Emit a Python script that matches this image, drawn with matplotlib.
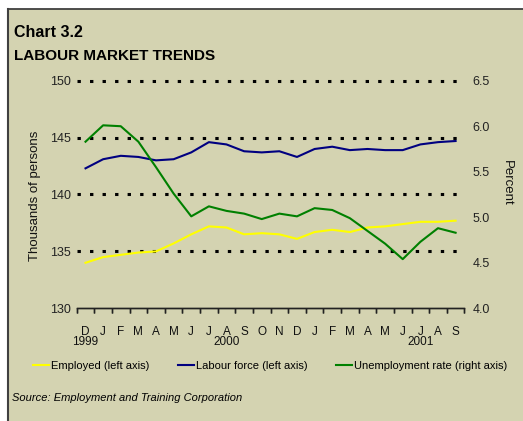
import numpy as np
import matplotlib
matplotlib.use('Agg')
import matplotlib.pyplot as plt
import matplotlib.transforms as mtransforms
from matplotlib.patches import Rectangle
from matplotlib.lines import Line2D
from matplotlib.ticker import NullFormatter

plt.rcParams['font.family'] = ['Liberation Sans', 'DejaVu Sans']
plt.rcParams.update({
    'axes.spines.left': False, 'axes.spines.right': False, 'axes.spines.top': False,
    'axes.edgecolor': '#222222', 'axes.linewidth': 1.0,
    'xtick.direction': 'out', 'xtick.major.size': 3.6, 'xtick.major.width': 1.0,
    'xtick.color': '#222222', 'xtick.labelcolor': '#111111', 'xtick.labelsize': 8.5,
    'xtick.minor.size': 0, 'xtick.minor.pad': 13.0, 'xtick.minor.visible': False,
})

# monthly data, Dec 1999 .. Sep 2001
months = ['D', 'J', 'F', 'M', 'A', 'M', 'J', 'J', 'A', 'S', 'O', 'N',
          'D', 'J', 'F', 'M', 'A', 'M', 'J', 'J', 'A', 'S']
years = ['1999', '2000', '2001']
year_month_idx = [0, 8, 19]

employed = [134.0, 134.5, 134.7, 134.9, 135.0, 135.7, 136.5, 137.2, 137.1, 136.5, 136.6,
            136.5, 136.1, 136.7, 136.9, 136.7, 137.1, 137.2, 137.4, 137.6, 137.6, 137.7]
labour_force = [142.3, 143.1, 143.4, 143.3, 143.0, 143.1, 143.7, 144.6, 144.4, 143.8, 143.7,
                143.8, 143.3, 144.0, 144.2, 143.9, 144.0, 143.9, 143.9, 144.4, 144.6, 144.7]
unemployment = [5.83, 6.01, 6.00, 5.83, 5.55, 5.26, 5.01, 5.12, 5.07, 5.04, 4.98,
                5.04, 5.01, 5.10, 5.08, 4.99, 4.85, 4.71, 4.54, 4.73, 4.88, 4.83]

left_ticks = [130, 135, 140, 145, 150]
right_ticks = [4.0, 4.5, 5.0, 5.5, 6.0, 6.5]

W, H = 523, 421
fig = plt.figure(figsize=(W / 100, H / 100), dpi=100)
fig.patch.set_facecolor('#D4D3B1')

# white margin on top/left with a dark frame line
fig.add_artist(Rectangle((0, 1 - 8.5 / H), 1, 8.5 / H, transform=fig.transFigure,
                         facecolor='white', edgecolor='none', zorder=-10))
fig.add_artist(Rectangle((0, 0), 7 / W, 1, transform=fig.transFigure,
                         facecolor='white', edgecolor='none', zorder=-10))
fig.add_artist(Line2D([7.5 / W, 1], [1 - 9 / H, 1 - 9 / H], transform=fig.transFigure,
                      color='#404040', lw=1.3, zorder=-9))
fig.add_artist(Line2D([7.5 / W, 7.5 / W], [0, 1 - 9 / H], transform=fig.transFigure,
                      color='#404040', lw=1.5, zorder=-9))

ax = fig.add_axes([76.7 / W, 1 - 308.3 / H, (464.4 - 76.7) / W, (308.3 - 80.7) / H])
ax.set_facecolor('none')
x = np.arange(len(months))
edges = np.arange(-0.5, len(months), 1)

ax.set_xlim(-0.5, len(months) - 0.5)
ax.set_ylim(130, 150)

for v in left_ticks[1:]:
    ax.axhline(v, xmin=0, xmax=0.993, color='black', lw=2.2, ls=(0, (1.1, 3.0)),
               dash_capstyle='butt', clip_on=False, zorder=1)

# x axis line and month-boundary ticks
ax.axhline(130, color='#222222', lw=1.0, clip_on=False, zorder=2)
ax.vlines(edges, 130, 130 - 20 * 5 / 227.6, color='#222222', lw=1.0, clip_on=False, zorder=2)

ax.plot(x, employed, color='#FFFF00', lw=1.5, zorder=3)
ax.plot(x, labour_force, color='#000080', lw=1.5, zorder=3)

ax.set_xticks(edges)
ax.xaxis.set_major_formatter(NullFormatter())
ax.set_xticks(x, minor=True)
ax.set_xticklabels(months, minor=True)

ax.set_yticks(left_ticks)
ax.tick_params(axis='y', length=0, pad=4.3, labelsize=9, labelcolor='#222222')

ax2 = ax.twinx()
ax2.plot(x, unemployment, color='#008000', lw=1.5)
ax2.set_ylim(4.0, 6.5)
for s in ax2.spines.values():
    s.set_visible(False)
ax2.set_yticks(right_ticks)
ax2.set_yticklabels([f'{t:.1f}' for t in right_ticks])
ax2.tick_params(axis='y', length=0, pad=5.8, labelsize=9, labelcolor='#222222')

trans = mtransforms.blended_transform_factory(ax.transData, fig.transFigure)
for yr, i in zip(years, year_month_idx):
    ax.text(i, 1 - 342 / H, yr, transform=trans, ha='center', va='center',
            fontsize=8.5, color='#111111')

fig.text(14 / W, 1 - 37 / H, 'Chart 3.2', fontsize=11.5, fontweight='bold', va='baseline')
fig.text(14 / W, 1 - 60 / H, 'LABOUR MARKET TRENDS', fontsize=11, fontweight='bold',
         va='baseline')
fig.text(35 / W, 1 - 196 / H, 'Thousands of persons', rotation=90, ha='center',
         va='center', fontsize=9.5, color='#111111')
fig.text(507 / W, 1 - 183 / H, 'Percent', rotation=270, ha='center', va='center',
         fontsize=9.5, color='#111111')

handles = [Line2D([], [], color='#FFFF00', lw=1.5),
           Line2D([], [], color='#000080', lw=1.5),
           Line2D([], [], color='#008000', lw=1.5)]
labels = ['Employed (left axis)', 'Labour force (left axis)', 'Unemployment rate (right axis)']
fig.legend(handles, labels, loc='center left', bbox_to_anchor=(33 / W, 1 - 366 / H),
           ncol=3, frameon=False, fontsize=8, handlelength=1.45, handletextpad=0.15,
           columnspacing=2.6, borderpad=0, borderaxespad=0)

fig.text(12 / W, 1 - 398 / H, 'Source: Employment and Training Corporation',
         style='italic', fontsize=8, va='center')

fig.savefig('out.png', dpi=100)
